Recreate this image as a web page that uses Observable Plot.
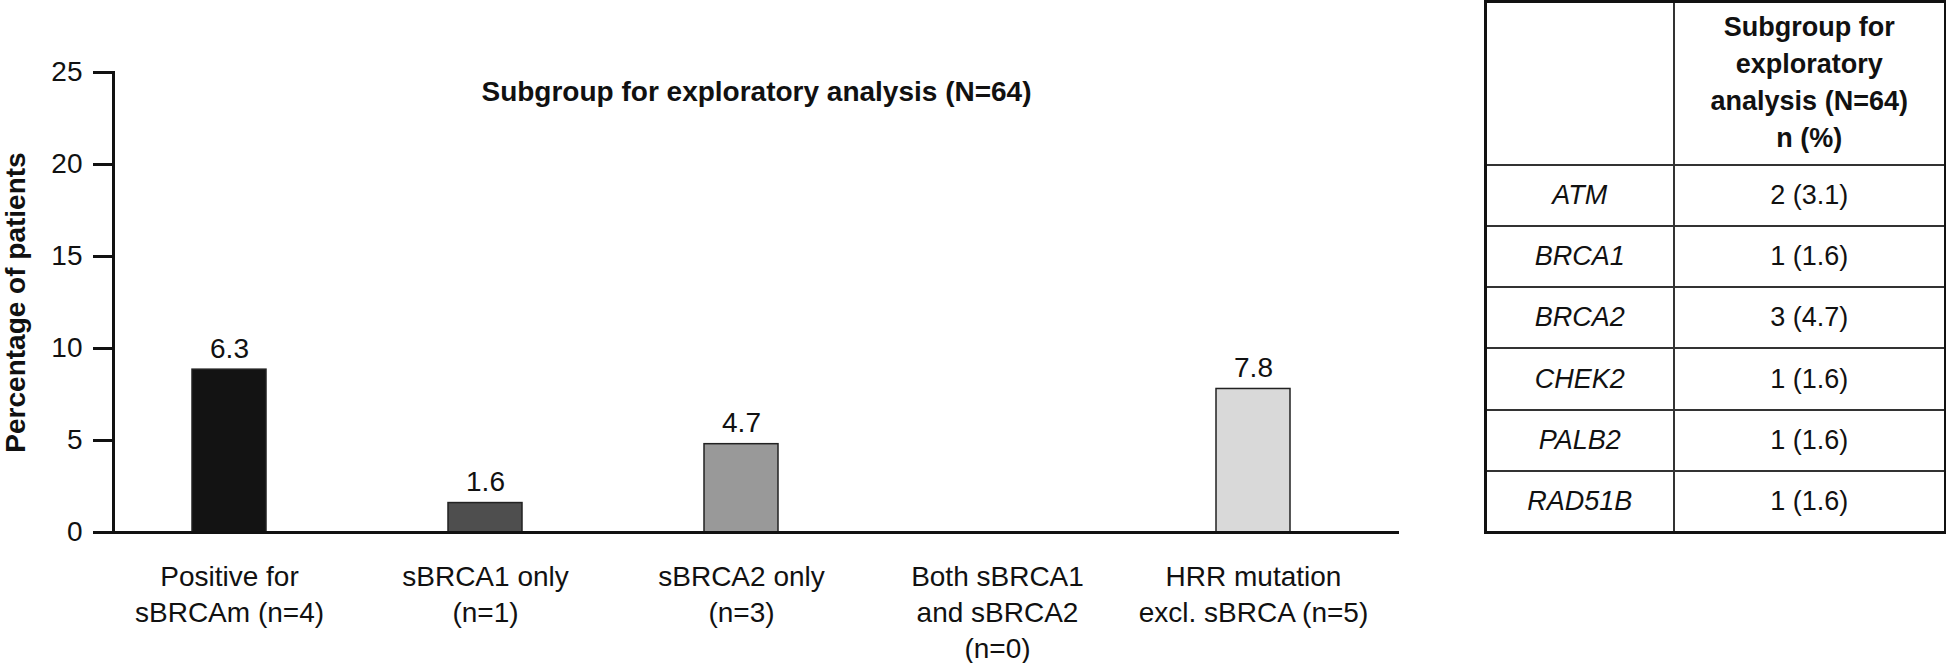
<!DOCTYPE html>
<html>
<head>
<meta charset="utf-8">
<script src="https://cdn.jsdelivr.net/npm/d3@7"></script>
<script src="https://cdn.jsdelivr.net/npm/@observablehq/plot@0.6"></script>
<style>
  body { margin: 0; background: #fff; font-family: "Liberation Sans", Arial, sans-serif; color: #111; }
  #wrap { position: relative; width: 1946px; height: 663px; overflow: hidden; background: #fff; }
  #chart { position: absolute; left: 0; top: 0; }
  #tbl { position: absolute; left: 1484px; top: 0; width: 460px; height: 534px; border-collapse: collapse;
         border: 3px solid #111; font-size: 27px; color: #111; table-layout: fixed; }
  #tbl td, #tbl th { border: 2px solid #333; text-align: center; padding: 0; box-sizing: border-box; }
  #tbl th { font-weight: bold; line-height: 37px; height: 163px; }
  #tbl td { height: 59px; }
  #tbl td.gene { font-style: italic; }
</style>
</head>
<body>
<div id="wrap">
  <div id="chart"></div>
  <table id="tbl"><colgroup><col style="width:188px"><col style="width:272px"></colgroup><thead></thead><tbody></tbody></table>
</div>
<script>
// ---- data ----
const categories = [
  "Positive for\nsBRCAm (n=4)",
  "sBRCA1 only\n(n=1)",
  "sBRCA2 only\n(n=3)",
  "Both sBRCA1\nand sBRCA2\n(n=0)",
  "HRR mutation\nexcl. sBRCA (n=5)"
];
const barHeights = [8.85, 1.6, 4.8, 0, 7.8];          // bar heights as drawn
const valueLabels = ["6.3", "1.6", "4.7", "", "7.8"];  // printed labels
const yTicks = [0, 5, 10, 15, 20, 25];
const chartTitle = "Subgroup for exploratory analysis (N=64)";
const yLabel = "Percentage of patients";

const tableHeader = ["", "Subgroup for\nexploratory\nanalysis (N=64)\nn (%)"];
const genes = ["ATM", "BRCA1", "BRCA2", "CHEK2", "PALB2", "RAD51B"];
const geneCounts = ["2 (3.1)", "1 (1.6)", "3 (4.7)", "1 (1.6)", "1 (1.6)", "1 (1.6)"];

// ---- styles ----
const barColors = ["#131313", "#4e4e4e", "#999999", "#bbbbbb", "#d9d9d9"];

const rows = categories.map((c, i) => ({category: c, value: barHeights[i], label: valueLabels[i]}));

const chart = Plot.plot({
  width: 1460,
  height: 663,
  marginLeft: 113,
  marginRight: 61,
  marginTop: 72,
  marginBottom: 131,
  x: {domain: categories, range: [190, 1292], paddingInner: 0.71, paddingOuter: 0, label: null},
  y: {domain: [0, 25], label: null},
  color: {domain: categories, range: barColors},
  style: {fontFamily: "'Liberation Sans', Arial, sans-serif", fontSize: "28px", color: "#111", background: "white", overflow: "visible"},
  marks: [
    Plot.barY(rows.filter(d => d.value > 0), {x: "category", y: "value", fill: "category", stroke: "#222", strokeWidth: 1.5}),
    Plot.text(rows.filter(d => d.label), {x: "category", y: "value", text: "label", dy: -12, lineAnchor: "bottom", fontSize: 28, fill: "#111"}),
    Plot.ruleY([0], {stroke: "#111", strokeWidth: 3}),
    Plot.frame({anchor: "left", stroke: "#111", strokeWidth: 3}),
    Plot.axisY({ticks: yTicks, tickSize: 20, tickPadding: 11, strokeWidth: 3, fontSize: 28, label: null}),
    Plot.axisX({tickSize: 0, tickPadding: 28, lineHeight: 1.286, fontSize: 28, label: null}),
    Plot.text([chartTitle], {frameAnchor: "top", dy: 9, fontWeight: "bold", fontSize: 28, fill: "#111"}),
    Plot.text([yLabel], {frameAnchor: "left", textAnchor: "middle", rotate: -90, dx: -97, fontWeight: "bold", fontSize: 28, fill: "#111"})
  ]
});
document.getElementById("chart").appendChild(chart);

// ---- table ----
const thead = d3.select("#tbl thead").append("tr");
tableHeader.forEach(h => {
  thead.append("th").html(h.split("\n").join("<br>"));
});
const tbody = d3.select("#tbl tbody");
genes.forEach((g, i) => {
  const tr = tbody.append("tr");
  tr.append("td").attr("class", "gene").text(g);
  tr.append("td").text(geneCounts[i]);
});
</script>
</body>
</html>
